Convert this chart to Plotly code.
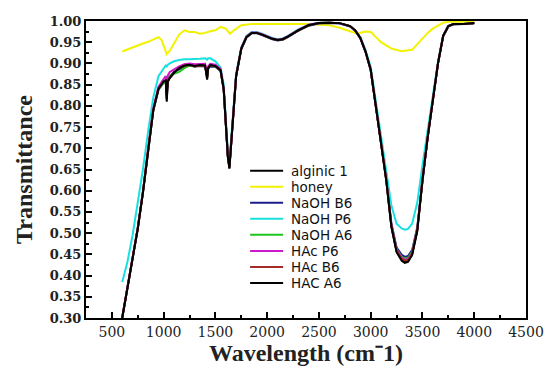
import plotly.graph_objects as go

# Shared wavenumber grid (cm^-1) for the alginate samples
wavenumber = [600, 650, 700, 750, 800, 850, 900, 950, 1000, 1020, 1030, 1040, 1060,
              1100, 1150, 1200, 1250, 1300, 1350, 1400, 1410, 1420, 1430, 1450, 1500, 1550,
              1580, 1600, 1620, 1635, 1650, 1670, 1700, 1750, 1800, 1850, 1900, 1950, 2000,
              2050, 2100, 2150, 2200, 2300, 2400, 2500, 2600, 2700, 2800, 2850, 2900, 2950,
              3000, 3050, 3100, 3150, 3200, 3250, 3300, 3330, 3360, 3400, 3450, 3500, 3550,
              3600, 3650, 3700, 3750, 3800, 3900, 4000]

alginic_1 = [0.302, 0.372, 0.442, 0.512, 0.598, 0.702, 0.792, 0.842, 0.858, 0.860, 0.815, 0.858, 0.866,
             0.878, 0.889, 0.895, 0.897, 0.894, 0.896, 0.895, 0.882, 0.866, 0.889, 0.896, 0.894, 0.884,
             0.840, 0.760, 0.682, 0.655, 0.700, 0.780, 0.870, 0.935, 0.962, 0.972, 0.972, 0.968, 0.963,
             0.958, 0.955, 0.957, 0.963, 0.978, 0.990, 0.995, 0.996, 0.995, 0.988, 0.978, 0.960, 0.928,
             0.885, 0.800, 0.715, 0.625, 0.515, 0.457, 0.437, 0.433, 0.434, 0.450, 0.507, 0.625, 0.725,
             0.815, 0.900, 0.965, 0.988, 0.993, 0.993, 0.995]

honey_wn = [600, 650, 700, 750, 800, 850, 900, 950, 980, 1000, 1030, 1060, 1100, 1150, 1200, 1250,
            1300, 1350, 1400, 1450, 1500, 1550, 1600, 1640, 1680, 1750, 1850, 2000, 2200, 2400,
            2600, 2700, 2800, 2870, 2950, 3000, 3050, 3100, 3200, 3300, 3400, 3450, 3500, 3550,
            3600, 3650, 3700, 3750, 3800, 3900, 4000]
honey = [0.928, 0.933, 0.938, 0.942, 0.947, 0.951, 0.956, 0.962, 0.955, 0.940, 0.922, 0.930, 0.948,
         0.968, 0.978, 0.974, 0.974, 0.970, 0.972, 0.976, 0.978, 0.986, 0.982, 0.970, 0.978, 0.990,
         0.993, 0.993, 0.993, 0.993, 0.990, 0.984, 0.976, 0.970, 0.975, 0.974, 0.962, 0.950, 0.935,
         0.929, 0.932, 0.945, 0.960, 0.972, 0.982, 0.990, 0.996, 0.998, 0.998, 0.998, 0.998]

naoh_b6 = [0.300, 0.370, 0.441, 0.511, 0.596, 0.700, 0.789, 0.838, 0.855, 0.857, 0.830, 0.856, 0.868,
           0.880, 0.887, 0.892, 0.895, 0.893, 0.894, 0.893, 0.885, 0.872, 0.888, 0.893, 0.892, 0.882,
           0.838, 0.758, 0.680, 0.656, 0.702, 0.782, 0.871, 0.934, 0.961, 0.971, 0.971, 0.967, 0.962,
           0.957, 0.954, 0.956, 0.962, 0.977, 0.989, 0.994, 0.995, 0.994, 0.987, 0.977, 0.959, 0.927,
           0.884, 0.801, 0.717, 0.628, 0.523, 0.466, 0.449, 0.444, 0.446, 0.460, 0.514, 0.628, 0.727,
           0.816, 0.900, 0.964, 0.987, 0.992, 0.993, 0.994]

naoh_p6 = [0.385, 0.432, 0.495, 0.570, 0.650, 0.740, 0.820, 0.870, 0.890, 0.895, 0.893, 0.897, 0.900,
           0.905, 0.908, 0.910, 0.910, 0.910, 0.911, 0.912, 0.911, 0.909, 0.912, 0.912, 0.905, 0.890,
           0.850, 0.770, 0.692, 0.668, 0.712, 0.790, 0.876, 0.938, 0.965, 0.974, 0.974, 0.970, 0.965,
           0.960, 0.957, 0.959, 0.965, 0.980, 0.991, 0.996, 0.996, 0.995, 0.988, 0.978, 0.962, 0.932,
           0.892, 0.812, 0.730, 0.650, 0.565, 0.522, 0.511, 0.508, 0.510, 0.522, 0.572, 0.660, 0.745,
           0.828, 0.905, 0.966, 0.988, 0.993, 0.993, 0.995]

naoh_a6 = [0.300, 0.371, 0.441, 0.511, 0.597, 0.700, 0.789, 0.839, 0.856, 0.860, 0.845, 0.864, 0.872,
           0.876, 0.880, 0.889, 0.895, 0.893, 0.895, 0.894, 0.884, 0.870, 0.889, 0.895, 0.893, 0.883,
           0.839, 0.759, 0.681, 0.654, 0.701, 0.781, 0.870, 0.935, 0.962, 0.972, 0.972, 0.968, 0.963,
           0.958, 0.955, 0.957, 0.963, 0.978, 0.990, 0.995, 0.996, 0.995, 0.988, 0.978, 0.960, 0.928,
           0.885, 0.800, 0.716, 0.626, 0.518, 0.462, 0.444, 0.440, 0.442, 0.456, 0.511, 0.627, 0.726,
           0.815, 0.900, 0.965, 0.988, 0.993, 0.993, 0.995]

hac_p6 = [0.301, 0.372, 0.443, 0.513, 0.599, 0.703, 0.793, 0.845, 0.865, 0.870, 0.855, 0.872, 0.880,
          0.886, 0.893, 0.898, 0.900, 0.898, 0.899, 0.899, 0.890, 0.876, 0.893, 0.899, 0.897, 0.887,
          0.842, 0.762, 0.684, 0.657, 0.703, 0.782, 0.871, 0.936, 0.963, 0.973, 0.973, 0.969, 0.964,
          0.959, 0.956, 0.958, 0.964, 0.979, 0.991, 0.995, 0.996, 0.995, 0.988, 0.978, 0.960, 0.928,
          0.885, 0.801, 0.716, 0.627, 0.519, 0.461, 0.442, 0.437, 0.439, 0.453, 0.510, 0.627, 0.726,
          0.816, 0.901, 0.965, 0.988, 0.993, 0.993, 0.995]

hac_b6 = [0.300, 0.370, 0.440, 0.511, 0.596, 0.701, 0.790, 0.840, 0.857, 0.860, 0.825, 0.859, 0.867,
          0.879, 0.889, 0.894, 0.896, 0.893, 0.895, 0.894, 0.883, 0.866, 0.889, 0.895, 0.893, 0.883,
          0.839, 0.759, 0.681, 0.653, 0.700, 0.780, 0.870, 0.935, 0.962, 0.972, 0.972, 0.968, 0.963,
          0.958, 0.955, 0.957, 0.963, 0.978, 0.990, 0.995, 0.996, 0.995, 0.988, 0.978, 0.960, 0.928,
          0.885, 0.800, 0.715, 0.626, 0.517, 0.459, 0.440, 0.435, 0.437, 0.452, 0.508, 0.626, 0.725,
          0.815, 0.900, 0.965, 0.988, 0.993, 0.993, 0.995]

hac_a6 = [0.300, 0.370, 0.440, 0.510, 0.595, 0.700, 0.790, 0.840, 0.858, 0.860, 0.810, 0.858, 0.866,
          0.878, 0.889, 0.895, 0.897, 0.894, 0.896, 0.895, 0.880, 0.862, 0.889, 0.896, 0.894, 0.884,
          0.840, 0.760, 0.680, 0.652, 0.700, 0.780, 0.870, 0.935, 0.962, 0.972, 0.972, 0.968, 0.963,
          0.958, 0.955, 0.957, 0.963, 0.978, 0.990, 0.995, 0.996, 0.995, 0.988, 0.978, 0.960, 0.928,
          0.885, 0.800, 0.715, 0.625, 0.515, 0.455, 0.435, 0.430, 0.432, 0.448, 0.505, 0.625, 0.725,
          0.815, 0.900, 0.965, 0.988, 0.993, 0.993, 0.995]

series_names = ["alginic 1", "honey", "NaOH B6", "NaOH P6", "NaOH A6", "HAc P6", "HAc B6", "HAC A6"]
series_x = [wavenumber, honey_wn, wavenumber, wavenumber, wavenumber, wavenumber, wavenumber, wavenumber]
series_y = [alginic_1, honey, naoh_b6, naoh_p6, naoh_a6, hac_p6, hac_b6, hac_a6]
series_colors = ["#000000", "#f2f200", "#1c1c8a", "#19e0e0", "#1fc41f", "#cc19cc", "#a52a2a", "#000000"]

x_ticks = [500, 1000, 1500, 2000, 2500, 3000, 3500, 4000, 4500]

fig = go.Figure()
for name, xs, ys, col in zip(series_names, series_x, series_y, series_colors):
    fig.add_trace(go.Scatter(x=xs, y=ys, mode="lines", name=name,
                             line=dict(color=col, width=2), showlegend=False))

# Manual legend (no frame), placed inside plot area
shapes = []
annotations = []
leg_x0, leg_x1, leg_tx = 0.373, 0.448, 0.462
leg_y0, leg_dy = 0.496, 0.054
for i, (name, col) in enumerate(zip(series_names, series_colors)):
    yy = leg_y0 - i * leg_dy
    shapes.append(dict(type="line", xref="paper", yref="paper", x0=leg_x0, x1=leg_x1,
                       y0=yy, y1=yy, line=dict(color=col, width=2)))
    annotations.append(dict(xref="paper", yref="paper", x=leg_tx, y=yy, text=name,
                            showarrow=False, xanchor="left", yanchor="middle",
                            font=dict(family="DejaVu Sans", size=13.5, color="#111111")))

fig.update_layout(
    width=546, height=366,
    margin=dict(l=86, r=20, t=21, b=48),
    paper_bgcolor="white", plot_bgcolor="white",
    shapes=shapes, annotations=annotations,
    showlegend=False,
)
fig.update_xaxes(
    range=[250, 4500], tickvals=x_ticks, ticktext=[str(v) for v in x_ticks],
    automargin=False,
    ticks="inside", ticklen=6, tickwidth=1.5, tickcolor="black",
    minor=dict(dtick=250, tick0=0, ticks="inside", ticklen=3, tickwidth=1.5, tickcolor="black"),
    showline=True, linewidth=2, linecolor="black", mirror=True, showgrid=False, zeroline=False,
    tickfont=dict(family="DejaVu Serif", size=14, color="#222222"),
    title=dict(text="<b>Wavelength (cm\u207b1)</b>", standoff=2,
               font=dict(family="Liberation Serif", size=24, color="#222222")),
)
fig.update_yaxes(
    range=[0.3, 1.0], dtick=0.05, tick0=0.3, tickformat=".2f",
    automargin=False,
    ticks="inside", ticklen=6, tickwidth=1.5, tickcolor="black",
    minor=dict(dtick=0.025, tick0=0.3, ticks="inside", ticklen=3, tickwidth=1.5, tickcolor="black"),
    showline=True, linewidth=2, linecolor="black", mirror=True, showgrid=False, zeroline=False,
    tickfont=dict(family="DejaVu Serif", size=13, color="#222222", weight="bold"),
    title=dict(text="<b>Transmittance</b>", standoff=10,
               font=dict(family="Liberation Serif", size=24, color="#222222")),
)

# Remove the browser's default 8px page margin so the figure fills the window exactly.
fig.write_html("out.html", config={"displayModeBar": False},
               post_script="document.body.style.margin='0';document.body.style.overflow='hidden';")
